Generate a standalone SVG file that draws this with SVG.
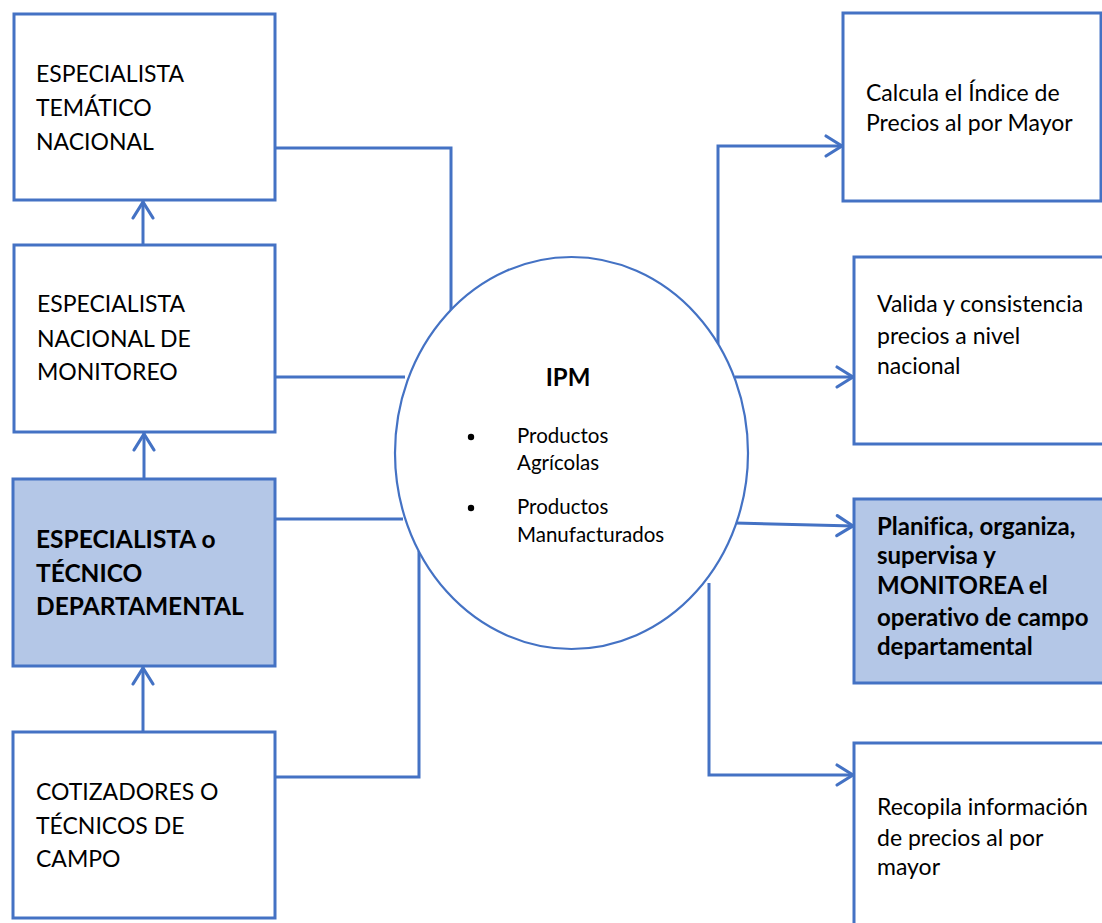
<svg xmlns="http://www.w3.org/2000/svg" width="1102" height="923" viewBox="0 0 1102 923">
<style>
.box{fill:#ffffff;stroke:#4472C4;stroke-width:3}
.hl{fill:#B4C7E7;stroke:#4472C4;stroke-width:3}
.t{font-family:Lato,"Open Sans","Liberation Sans",sans-serif;font-size:23px;fill:#000;font-variant-ligatures:none}
.b{font-weight:bold}
.bl{font-size:24.5px}
.br{font-size:24px}
.s{font-size:20.5px}
.c{fill:none;stroke:#4472C4;stroke-width:3}
</style>
<defs>
<marker id="arr" markerUnits="userSpaceOnUse" markerWidth="26" markerHeight="26" viewBox="-22 -13 26 26" refX="0" refY="0" orient="auto">
<path d="M-17,-10 L-1,0 L-17,10" fill="none" stroke="#4472C4" stroke-width="3.2" stroke-linecap="round" stroke-linejoin="round"/>
</marker>
</defs>
<rect width="1102" height="923" fill="#ffffff"/>

<g id="connectors">
<path class="c" d="M143,245 V201" marker-end="url(#arr)"/>
<path class="c" d="M144,479 V433" marker-end="url(#arr)"/>
<path class="c" d="M143,732 V667" marker-end="url(#arr)"/>
<path class="c" d="M276,148 H451 V310"/>
<path class="c" d="M276,377 H405"/>
<path class="c" d="M276,519 H403"/>
<path class="c" d="M276,777 H419 V551"/>
<path class="c" d="M718,344 V146 H843" marker-end="url(#arr)"/>
<path class="c" d="M735,377 H854" marker-end="url(#arr)"/>
<path class="c" d="M735,523 L854,526" marker-end="url(#arr)"/>
<path class="c" d="M709,583 V775 H854" marker-end="url(#arr)"/>
</g>

<g id="n-tematico">
<rect class="box" x="14" y="14" width="261" height="186"/>
<text class="t" x="36" y="82">ESPECIALISTA</text>
<text class="t" x="36" y="116">TEMÁTICO</text>
<text class="t" x="36" y="150">NACIONAL</text>
</g>
<g id="n-monitoreo">
<rect class="box" x="14" y="245" width="261" height="187"/>
<text class="t" x="37" y="312">ESPECIALISTA</text>
<text class="t" x="37" y="347">NACIONAL DE</text>
<text class="t" x="37" y="380">MONITOREO</text>
</g>
<g id="n-departamental">
<rect class="hl" x="13" y="479" width="262" height="187"/>
<text class="t b bl" x="36" y="548">ESPECIALISTA o</text>
<text class="t b bl" x="36" y="582">TÉCNICO</text>
<text class="t b bl" x="36" y="615">DEPARTAMENTAL</text>
</g>
<g id="n-cotizadores">
<rect class="box" x="13" y="732" width="262" height="186"/>
<text class="t" x="36" y="800">COTIZADORES O</text>
<text class="t" x="36" y="834">TÉCNICOS DE</text>
<text class="t" x="36" y="867">CAMPO</text>
</g>

<g id="n-ipm">
<ellipse cx="571.5" cy="453" rx="176.5" ry="196" fill="#ffffff" stroke="#4472C4" stroke-width="2.2"/>
<text class="t b br" x="568" y="386" text-anchor="middle">IPM</text>
<circle cx="471" cy="437" r="3.2" fill="#000"/>
<circle cx="471" cy="508" r="3.2" fill="#000"/>
<text class="t s" x="517" y="443">Productos</text>
<text class="t s" x="517" y="470">Agrícolas</text>
<text class="t s" x="517" y="514">Productos</text>
<text class="t s" x="517" y="542">Manufacturados</text>
</g>

<g id="n-calcula">
<rect class="box" x="843" y="13" width="258" height="188"/>
<text class="t" x="866" y="101">Calcula el Índice de</text>
<text class="t" x="866" y="131">Precios al por Mayor</text>
</g>
<g id="n-valida">
<rect class="box" x="854" y="257" width="252" height="187"/>
<text class="t" x="877" y="312">Valida y consistencia</text>
<text class="t" x="877" y="344">precios a nivel</text>
<text class="t" x="877" y="374">nacional</text>
</g>
<g id="n-planifica">
<rect class="hl" x="854" y="499" width="252" height="184"/>
<text class="t b br" x="877" y="535">Planifica, organiza,</text>
<text class="t b br" x="877" y="564">supervisa y</text>
<text class="t b br" x="877" y="594">MONITOREA el</text>
<text class="t b br" x="877" y="626">operativo de campo</text>
<text class="t b br" x="877" y="655">departamental</text>
</g>
<g id="n-recopila">
<rect class="box" x="854" y="743" width="252" height="190"/>
<text class="t" x="877" y="815">Recopila información</text>
<text class="t" x="877" y="846">de precios al por</text>
<text class="t" x="877" y="875">mayor</text>
</g>
</svg>
